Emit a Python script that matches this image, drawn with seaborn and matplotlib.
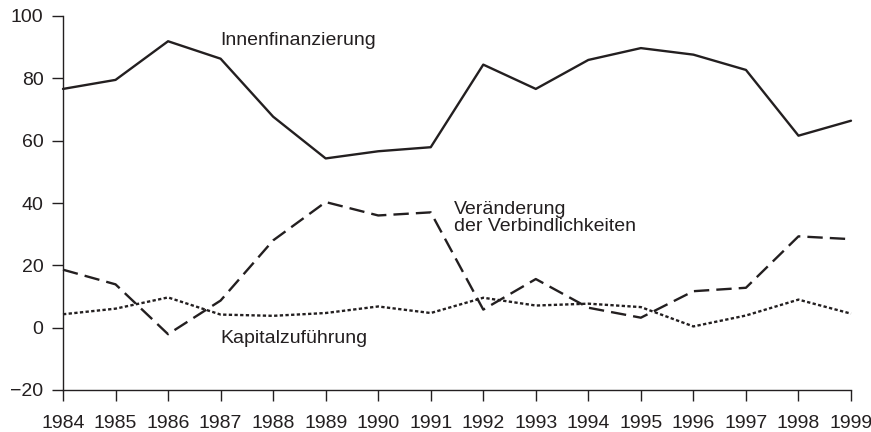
import pandas as pd
import seaborn as sns
import matplotlib.pyplot as plt

years = list(range(1984, 2000))
innen = [76.6, 79.5, 91.9, 86.3, 67.7, 54.3, 56.6, 57.9, 84.4, 76.6, 85.9, 89.7, 87.6, 82.7, 61.6, 66.4]
verbindlich = [18.6, 13.9, -2.1, 8.7, 28.0, 40.3, 36.0, 37.0, 5.8, 15.6, 6.4, 3.2, 11.7, 12.8, 29.3, 28.4]
kapital = [4.3, 6.1, 9.7, 4.2, 3.8, 4.7, 6.8, 4.7, 9.6, 7.1, 7.7, 6.6, 0.4, 3.9, 9.0, 4.5]
yticks = [-20, 0, 20, 40, 60, 80, 100]

sns.set_style('ticks')
plt.rcParams['font.family'] = ['Liberation Sans', 'DejaVu Sans']

ink = '#231f20'
fig = plt.figure(figsize=(8.71, 4.32), dpi=100)
ax = fig.add_axes([63 / 871, 42 / 432, 788 / 871, 374 / 432])

df = pd.DataFrame({'Jahr': years, 'innen': innen, 'verb': verbindlich, 'kap': kapital})

sns.lineplot(data=df, x='Jahr', y='innen', ax=ax, color=ink, linewidth=1.7, clip_on=False)
sns.lineplot(data=df, x='Jahr', y='verb', ax=ax, color=ink, linewidth=1.7,
             linestyle=(0, (6.5, 3)), clip_on=False)
sns.lineplot(data=df, x='Jahr', y='kap', ax=ax, color=ink, linewidth=1.7,
             linestyle=(0, (1.4, 1.0)), clip_on=False)

ax.set_xlim(1984, 1999)
ax.set_ylim(-20, 100)
ax.set_xticks(years)
ax.set_yticks(yticks)
ax.set_yticklabels(['\u221220' if t < 0 else str(t) for t in yticks])
ax.set_xlabel('')
ax.set_ylabel('')
sns.despine(ax=ax)
for s in ['left', 'bottom']:
    ax.spines[s].set_color(ink)
    ax.spines[s].set_linewidth(1.0)
ax.tick_params(axis='both', length=8, width=1.0, color=ink, labelcolor=ink,
               labelsize=14, pad=6)
ax.tick_params(axis='x', pad=10)

ax.text(1986.99, 92, 'Innenfinanzierung', fontsize=14, color=ink, va='center')
ax.text(1991.44, 35.3, 'Veränderung\nder Verbindlichkeiten', fontsize=14, color=ink,
        va='center', linespacing=1.0)
ax.text(1987.0, -3.4, 'Kapitalzuführung', fontsize=14, color=ink, va='center')

fig.savefig('out.png', dpi=100)
